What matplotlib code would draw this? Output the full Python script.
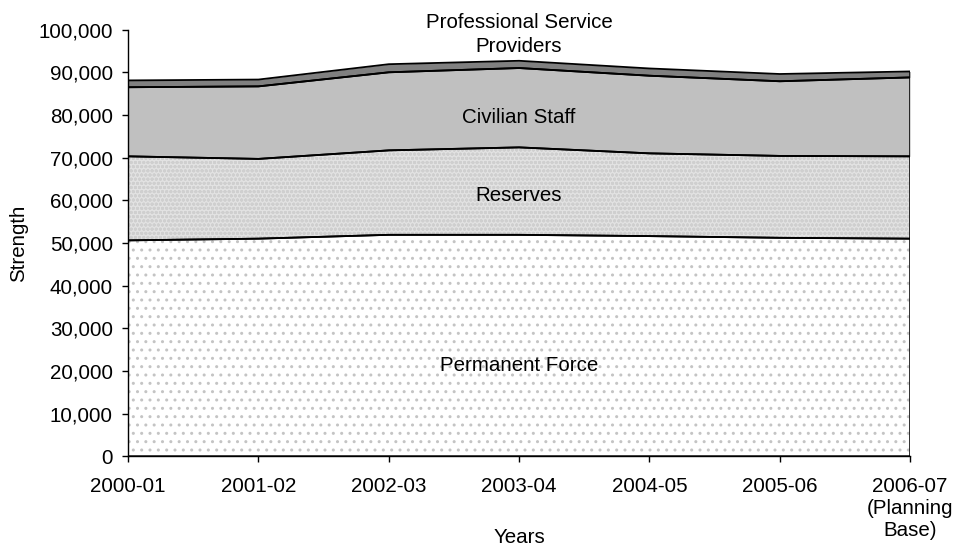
import matplotlib
matplotlib.use("Agg")
import matplotlib.pyplot as plt
from matplotlib.ticker import FuncFormatter, MultipleLocator
import numpy as np

plt.rcParams['font.family'] = ['Liberation Sans', 'DejaVu Sans']
plt.rcParams['hatch.linewidth'] = 1.0

years = ["2000-01", "2001-02", "2002-03", "2003-04", "2004-05", "2005-06",
         "2006-07\n(Planning\nBase)"]
permanent_force = [50600, 51000, 51900, 51900, 51600, 51200, 51000]
reserves = [19700, 18700, 19800, 20500, 19400, 19200, 19300]
civilian_staff = [16200, 17000, 18300, 18600, 18200, 17500, 18500]
professional_service = [1600, 1600, 1900, 1700, 1700, 1700, 1400]

series = [
    ("Permanent Force", permanent_force, dict(facecolor="white", hatch="..", edgecolor="#c4c4c4")),
    ("Reserves", reserves, dict(facecolor="#e2e2e2", hatch="oooo", edgecolor="#cfcfcf")),
    ("Civilian Staff", civilian_staff, dict(facecolor="#c0c0c0", hatch=None, edgecolor="#c0c0c0")),
    ("Professional Service Providers", professional_service,
     dict(facecolor="#808080", hatch=None, edgecolor="#808080")),
]

FS = 14.8

fig = plt.figure(figsize=(9.56, 5.49), dpi=100)
ax = fig.add_axes([0.134, 0.169, 0.818, 0.777])

x = np.arange(len(years))
base = np.zeros(len(years))
for name, vals, style in series:
    top = base + np.asarray(vals, dtype=float)
    ax.fill_between(x, base, top, facecolor=style["facecolor"], hatch=style["hatch"],
                    edgecolor=style["edgecolor"], linewidth=0, zorder=1)
    ax.fill_between(x, base, top, facecolor="none", edgecolor="black",
                    linewidth=1.3, zorder=2)
    base = top

ax.set_xlim(0, len(years) - 1)
ax.set_ylim(0, 100000)
ax.yaxis.set_major_locator(MultipleLocator(10000))
ax.yaxis.set_major_formatter(FuncFormatter(lambda v, p: f"{int(v):,}"))
ax.set_xticks(x)
ax.set_xticklabels(years, linespacing=1.2)

for s in ("top", "right"):
    ax.spines[s].set_visible(False)
for s in ("left", "bottom"):
    ax.spines[s].set_linewidth(1.0)
    ax.spines[s].set_zorder(3)

ax.tick_params(axis="both", direction="out", length=4, width=1.0, labelsize=FS, color="black")
ax.tick_params(axis="y", pad=7)
ax.tick_params(axis="x", pad=11)

ax.set_ylabel("Strength", fontsize=FS)
ax.yaxis.set_label_coords(-0.128, 0.5)
ax.set_xlabel("Years", fontsize=FS)
ax.xaxis.set_label_coords(0.5, -0.168)

mid = (len(years) - 1) / 2
ax.text(mid, 98800, "Professional Service\nProviders", ha="center", va="center",
        fontsize=FS, linespacing=1.35, zorder=4)
ax.text(mid, 79400, "Civilian Staff", ha="center", va="center", fontsize=FS, zorder=4)
ax.text(mid, 61100, "Reserves", ha="center", va="center", fontsize=FS, zorder=4)
ax.text(mid, 21300, "Permanent Force", ha="center", va="center", fontsize=FS, zorder=4)

fig.savefig("out.png", dpi=100)
